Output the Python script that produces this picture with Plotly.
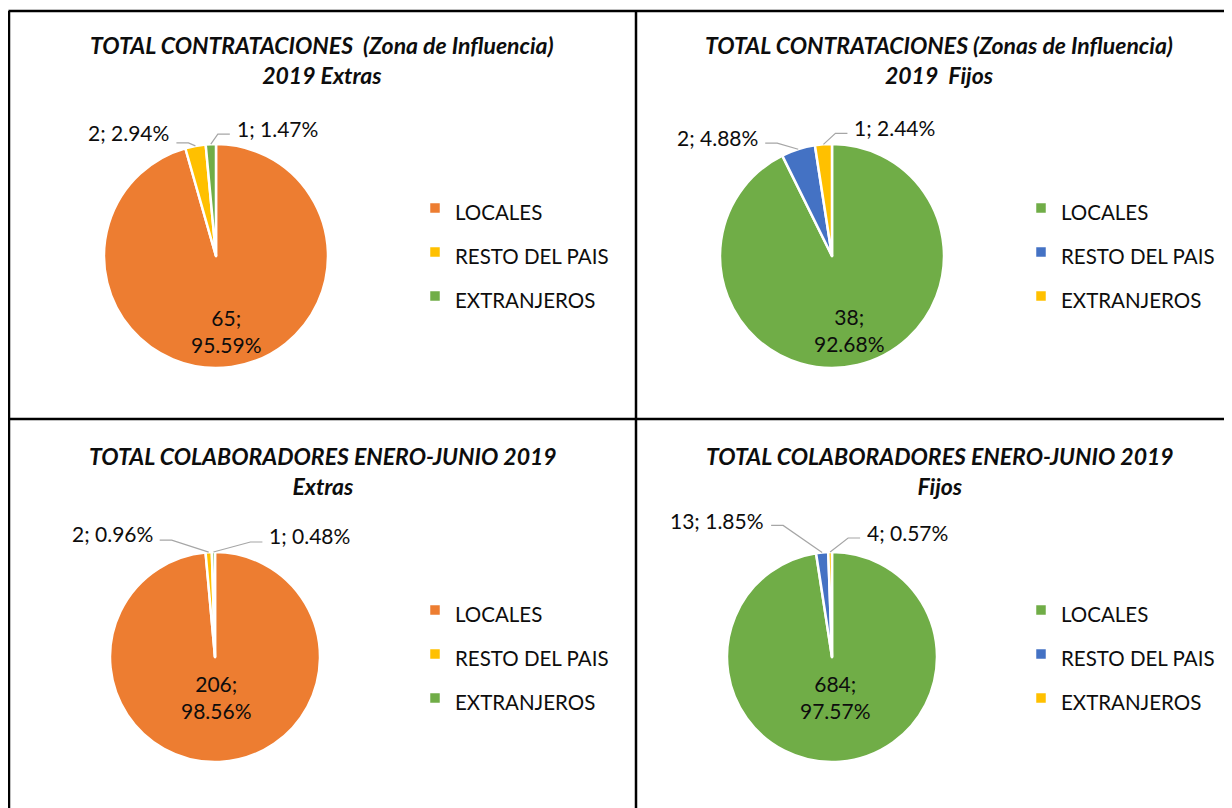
import math
import plotly.graph_objects as go

W, H = 1232, 808
PAGE_OFFSET = 8  # browser body margin around the plot div

# ---------------- data ----------------
categories = ["LOCALES", "RESTO DEL PAIS", "EXTRANJEROS"]
contrat_extras = [65, 2, 1]
contrat_fijos = [38, 2, 1]
colab_extras = [206, 2, 1]
colab_fijos = [684, 13, 4]

titles = [
    "TOTAL CONTRATACIONES\u00a0\u00a0(Zona de Influencia)<br>2019 Extras",
    "TOTAL CONTRATACIONES (Zonas de Influencia)<br>2019\u00a0\u00a0Fijos",
    "TOTAL COLABORADORES ENERO-JUNIO 2019<br>Extras",
    "TOTAL COLABORADORES ENERO-JUNIO 2019<br>Fijos",
]

# ---------------- style ----------------
ORANGE, YELLOW, GREEN, BLUE = "#ED7D31", "#FFC000", "#70AD47", "#4472C4"
palette_a = [ORANGE, YELLOW, GREEN]
palette_b = [GREEN, BLUE, YELLOW]
FONT = "Lato"
TXT = "#0d0d0d"
LEADER = "#A6A6A6"

panels = [
    dict(values=contrat_extras, colors=palette_a, cx=216, cy=256, r=112,
         tx=322, ty=59.5, lx=415, ly=252, inner=0.68,
         offs=[None, (-7, -3, -10), (7, -10, -6)]),
    dict(values=contrat_fijos, colors=palette_b, cx=832, cy=256, r=112,
         tx=939, ty=59.5, lx=1021, ly=252, inner=0.68,
         offs=[None, (-21, -6, -6), (12, -11, -6)]),
    dict(values=colab_extras, colors=palette_a, cx=215, cy=657, r=105,
         tx=323, ty=470.5, lx=415, ly=654, inner=0.38,
         offs=[None, (-37, -12, -7), (37, -10, -7)]),
    dict(values=colab_fijos, colors=palette_b, cx=832, cy=657, r=105,
         tx=940, ty=470.5, lx=1021, ly=654, inner=0.38,
         offs=[None, (-39, -27, -5), (18, -14, -6)]),
]


def X(px):
    return (px - PAGE_OFFSET) / W


def Y(py):
    return 1 - (py - PAGE_OFFSET) / H


fig = go.Figure()
annotations = []
shapes = []

for i, p in enumerate(panels):
    leg = "legend" if i == 0 else f"legend{i + 1}"
    cx, cy, r = p["cx"], p["cy"], p["r"]
    fig.add_trace(go.Pie(
        labels=[f"<span style='font-size:20.5px'>{c}</span>" for c in categories],
        values=p["values"],
        sort=False,
        direction="clockwise",
        rotation=0,
        marker=dict(colors=p["colors"], line=dict(color="white", width=2.5)),
        textinfo="none",
        hoverinfo="label+value+percent",
        domain=dict(x=[X(cx - r), X(cx + r)], y=[Y(cy + r), Y(cy - r)]),
        legend=leg,
        legendgroup=f"panel{i + 1}",
        showlegend=True,
    ))

    # legend
    fig.update_layout({leg: dict(
        x=X(p["lx"]), y=Y(p["ly"]), xanchor="left", yanchor="middle",
        font=dict(family=FONT, size=31.5, color=TXT),
        bgcolor="rgba(0,0,0,0)", borderwidth=0,
    )})

    # title
    annotations.append(dict(
        x=X(p["tx"]), y=Y(p["ty"]), xref="paper", yref="paper",
        xanchor="center", yanchor="middle", showarrow=False,
        text=f"<b><i>{titles[i]}</i></b>",
        font=dict(family=FONT, size=23, color=TXT),
    ))

    # data labels
    vals = p["values"]
    total = sum(vals)
    cum = 0
    for j, v in enumerate(vals):
        a0 = cum / total * 2 * math.pi
        cum += v
        a1 = cum / total * 2 * math.pi
        mid = (a0 + a1) / 2
        pct = v / total * 100
        label = f"{v}; {pct:.2f}%"
        if p["offs"][j] is None:
            lxp = cx + p["inner"] * r * math.sin(mid)
            lyp = cy - p["inner"] * r * math.cos(mid)
            annotations.append(dict(
                x=X(lxp), y=Y(lyp), xref="paper", yref="paper",
                xanchor="center", yanchor="middle", showarrow=False,
                text=f"{v};<br>{pct:.2f}%",
                font=dict(family=FONT, size=21, color=TXT),
            ))
        else:
            dx, dy, tdy = p["offs"][j]
            ex = cx + r * math.sin(mid)
            ey = cy - r * math.cos(mid)
            kx, ky = ex + dx, ey + dy
            side = 1 if dx > 0 else -1
            sx = kx + side * 12
            shapes.append(dict(
                type="path", xref="paper", yref="paper",
                path=f"M {X(sx)},{Y(ky)} L {X(kx)},{Y(ky)} L {X(ex)},{Y(ey)}",
                line=dict(color=LEADER, width=1.2),
            ))
            annotations.append(dict(
                x=X(sx + side * 5), y=Y(ky + tdy), xref="paper", yref="paper",
                xanchor="left" if side > 0 else "right", yanchor="middle",
                showarrow=False, text=label,
                font=dict(family=FONT, size=21, color=TXT),
            ))

# panel borders
BORDER = dict(color="black", width=2.5)
shapes += [
    dict(type="line", xref="paper", yref="paper", x0=X(8.5), x1=X(1250), y0=Y(11), y1=Y(11), line=BORDER),
    dict(type="line", xref="paper", yref="paper", x0=X(8.5), x1=X(1250), y0=Y(419), y1=Y(419), line=BORDER),
    dict(type="line", xref="paper", yref="paper", x0=X(9), x1=X(9), y0=Y(11), y1=Y(830), line=BORDER),
    dict(type="line", xref="paper", yref="paper", x0=X(636), x1=X(636), y0=Y(11), y1=Y(830), line=BORDER),
]

fig.update_layout(
    width=W, height=H,
    margin=dict(l=0, r=0, t=0, b=0, pad=0),
    paper_bgcolor="white", plot_bgcolor="white",
    annotations=annotations, shapes=shapes,
    font=dict(family=FONT, color=TXT),
)

fig.write_html("out.html")
